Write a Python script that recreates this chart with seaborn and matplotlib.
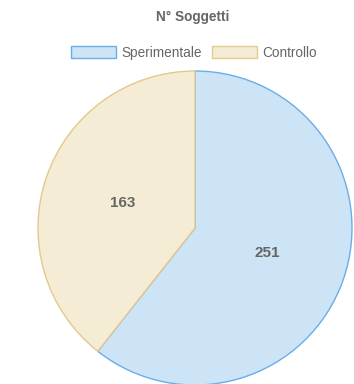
import matplotlib
matplotlib.use("Agg")
import matplotlib.pyplot as plt
import seaborn as sns

categories = ["Sperimentale", "Controllo"]
values = [251, 163]
title = "N° Soggetti"

sns.set_theme(style="white")
plt.rcParams['font.family'] = ['Liberation Sans', 'DejaVu Sans']

fills = ["#cde3f6", "#f5ecd6"]
edges = ["#6aaee8", "#e3c98c"]

W, H = 354, 384
fig = plt.figure(figsize=(W / 100, H / 100), dpi=100)
fig.patch.set_facecolor("white")

cx, cy, r = 195, 228, 157
ax = fig.add_axes([(cx - r) / W, 1 - (cy + r) / H, 2 * r / W, 2 * r / H])

wedges, texts = ax.pie(values, colors=fills, startangle=90, counterclock=False,
                       labels=[str(v) for v in values], labeldistance=0.49,
                       wedgeprops=dict(linewidth=1.0),
                       textprops=dict(fontsize=11, fontweight="bold", color="#666666"))
for w, e in zip(wedges, edges):
    w.set_edgecolor(e)
for t in texts:
    t.set_horizontalalignment("center")
    t.set_verticalalignment("center")
ax.set_xlim(-1, 1)
ax.set_ylim(-1, 1)
ax.set_aspect("auto")
ax.axis("off")

fig.text(193 / W, 1 - 17 / H, title, ha="center", va="center",
         fontsize=9.8, fontweight="bold", color="#666666")

leg = fig.legend(wedges, categories, loc="center", bbox_to_anchor=(194 / W, 1 - 53 / H),
                 ncol=2, frameon=False, fontsize=9.8, handlelength=3.3, handleheight=1.0,
                 handletextpad=0.4, columnspacing=0.7, labelcolor="#666666")

fig.savefig("out.png", dpi=100, facecolor="white")
